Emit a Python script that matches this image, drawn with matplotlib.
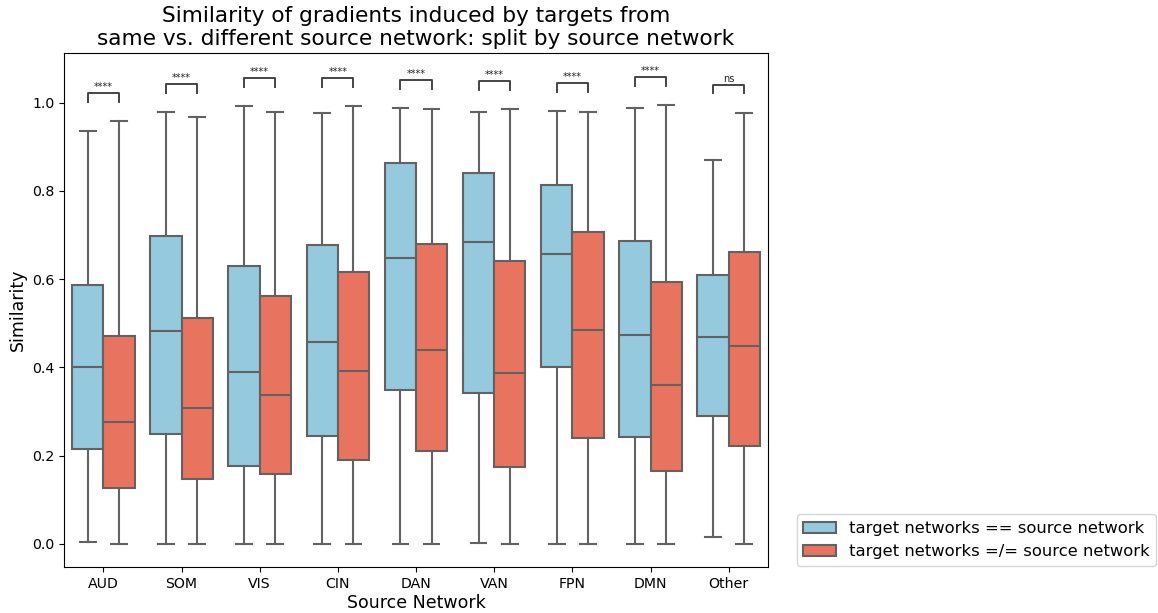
import colorsys
import matplotlib
matplotlib.use("Agg")
import matplotlib.pyplot as plt
from matplotlib.patches import Patch

# Source networks on the x axis
networks = ["AUD", "SOM", "VIS", "CIN", "DAN", "VAN", "FPN", "DMN", "Other"]
hue_labels = ["target networks == source network", "target networks =/= source network"]

# Box statistics for targets in the same network as the source
same_whislo = [0.005, 0.0, 0.0, 0.0, 0.0, 0.003, 0.0, 0.0, 0.016]
same_q1     = [0.215, 0.248, 0.177, 0.245, 0.349, 0.341, 0.400, 0.242, 0.289]
same_med    = [0.402, 0.482, 0.390, 0.457, 0.648, 0.684, 0.657, 0.474, 0.468]
same_q3     = [0.587, 0.698, 0.629, 0.678, 0.863, 0.841, 0.813, 0.687, 0.610]
same_whishi = [0.936, 0.979, 0.992, 0.977, 0.988, 0.979, 0.981, 0.988, 0.870]

# Box statistics for targets in a different network from the source
diff_whislo = [0.0, 0.0, 0.0, 0.0, 0.0, 0.0, 0.0, 0.0, 0.0]
diff_q1     = [0.126, 0.146, 0.159, 0.190, 0.211, 0.175, 0.240, 0.166, 0.221]
diff_med    = [0.276, 0.309, 0.338, 0.393, 0.440, 0.388, 0.484, 0.360, 0.449]
diff_q3     = [0.471, 0.511, 0.563, 0.617, 0.680, 0.642, 0.707, 0.594, 0.662]
diff_whishi = [0.958, 0.967, 0.979, 0.992, 0.986, 0.986, 0.979, 0.995, 0.977]

# Significance labels from the same-vs-different comparison
sig_labels = ["****", "****", "****", "****", "****", "****", "****", "****", "ns"]


def desaturate(name, prop):
    r, g, b = matplotlib.colors.to_rgb(name)
    h, l, s = colorsys.rgb_to_hls(r, g, b)
    return colorsys.hls_to_rgb(h, l, s * prop)


colors = [desaturate("skyblue", 0.75), desaturate("tomato", 0.75)]
lum = min(colorsys.rgb_to_hls(*c)[1] for c in colors) * 0.6
line_gray = (lum, lum, lum)

fig = plt.figure(figsize=(11.58, 6.13), dpi=100)
ax = fig.add_axes([0.0555, 0.0746, 0.6075, 0.8384])

groups = [
    (same_whislo, same_q1, same_med, same_q3, same_whishi),
    (diff_whislo, diff_q1, diff_med, diff_q3, diff_whishi),
]
box_w = 0.4
offsets = [-0.2, 0.2]
for gi, (lo, q1, med, q3, hi) in enumerate(groups):
    stats = []
    for i in range(len(networks)):
        stats.append(dict(whislo=lo[i], q1=q1[i], med=med[i], q3=q3[i],
                          whishi=hi[i], fliers=[]))
    positions = [i + offsets[gi] for i in range(len(networks))]
    ax.bxp(stats, positions=positions, widths=box_w, patch_artist=True,
           showfliers=False, manage_ticks=False,
           boxprops=dict(facecolor=colors[gi], edgecolor=line_gray, linewidth=1.5),
           medianprops=dict(color=line_gray, linewidth=1.5),
           whiskerprops=dict(color=line_gray, linewidth=1.5),
           capprops=dict(color=line_gray, linewidth=1.5))

# Significance brackets above each pair of boxes
for i, lab in enumerate(sig_labels):
    y0 = max(same_whishi[i], diff_whishi[i]) + 0.044
    y1 = y0 + 0.019
    ax.plot([i - 0.2, i - 0.2, i + 0.2, i + 0.2], [y0, y1, y1, y0],
            color="#444444", lw=1.4, clip_on=False)
    ax.annotate(lab, xy=(i, y1), xytext=(0, 1), textcoords="offset points",
                ha="center", va="bottom", fontsize=7, color="#222222")

ax.set_xlim(-0.5, len(networks) - 0.5)
ax.set_ylim(-0.053, 1.112)
ax.set_xticks(range(len(networks)))
ax.set_xticklabels(networks)
ax.set_yticks([0.0, 0.2, 0.4, 0.6, 0.8, 1.0])
ax.tick_params(labelsize=10.2)
ax.set_xlabel("Source Network", fontsize=12.5, labelpad=2)
ax.set_ylabel("Similarity", fontsize=12.5)
ax.set_title("Similarity of gradients induced by targets from\n"
             "same vs. different source network: split by source network",
             fontsize=15.6)

handles = [Patch(facecolor=colors[k], edgecolor=line_gray, linewidth=1.5)
           for k in range(2)]
fig.legend(handles, hue_labels, loc="lower left", bbox_to_anchor=(0.688, 0.077),
           borderaxespad=0, fontsize=11.8)

fig.savefig("out.png", dpi=100)
